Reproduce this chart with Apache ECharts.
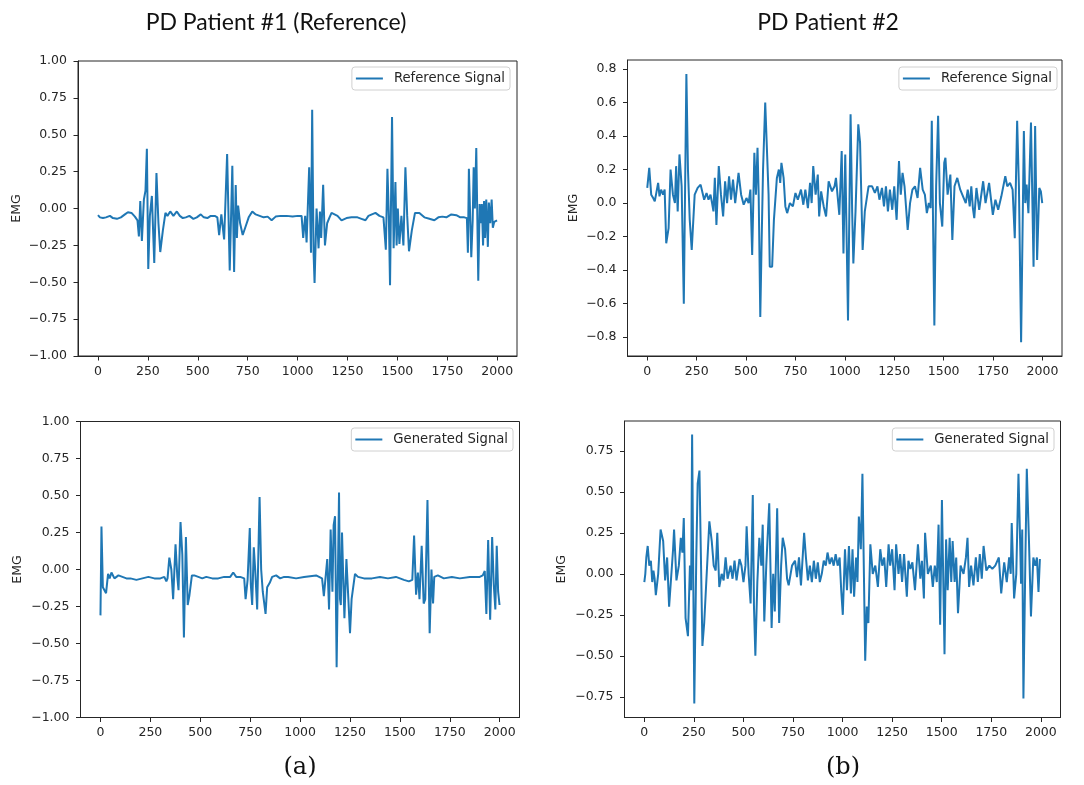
<!DOCTYPE html>
<html>
<head>
<meta charset="utf-8">
<title>EMG signals</title>
<script src="https://cdn.jsdelivr.net/npm/echarts@6/dist/echarts.min.js"></script>
<style>
  html, body { margin: 0; padding: 0; background: #fff; }
  #chart-panel { width: 1084px; height: 785px; }
</style>
</head>
<body>
<div id="chart-panel"></div>
<script>
// tick labels
var xTicks = [0, 250, 500, 750, 1000, 1250, 1500, 1750, 2000];
var yTicksP1 = [-1, -0.75, -0.5, -0.25, 0, 0.25, 0.5, 0.75, 1];
var yTicksP2Ref = [-0.8, -0.6, -0.4, -0.2, 0, 0.2, 0.4, 0.6, 0.8];
var yTicksP2Gen = [-0.75, -0.5, -0.25, 0, 0.25, 0.5, 0.75];

// PD patient #1, reference signal  [sample, EMG]
var p1Reference = [[0,-0.045],[10,-0.06],[25,-0.065],[40,-0.06],[60,-0.05],[75,-0.065],[95,-0.07],[115,-0.06],[135,-0.04],[150,-0.025],[168,-0.03],[185,-0.055],[198,-0.08],[205,-0.19],[212,0.05],[220,-0.22],[230,0.06],[238,0.12],[245,0.405],[252,-0.41],[260,-0.05],[270,0.085],[282,-0.37],[293,0.24],[303,-0.1],[312,-0.295],[325,-0.15],[338,-0.03],[348,-0.05],[362,-0.02],[378,-0.05],[395,-0.02],[410,-0.05],[425,-0.065],[440,-0.06],[458,-0.05],[478,-0.07],[495,-0.06],[515,-0.04],[530,-0.06],[548,-0.065],[565,-0.05],[585,-0.05],[598,-0.06],[607,-0.18],[618,-0.04],[632,-0.21],[647,0.37],[660,-0.42],[673,0.29],[682,-0.43],[690,0.16],[696,-0.2],[702,0.02],[712,-0.1],[725,-0.18],[740,-0.12],[755,-0.06],[773,-0.02],[790,-0.04],[810,-0.05],[830,-0.06],[850,-0.055],[870,-0.08],[890,-0.055],[915,-0.05],[945,-0.05],[975,-0.055],[1000,-0.05],[1020,-0.05],[1028,-0.2],[1038,-0.05],[1045,-0.23],[1058,0.28],[1067,-0.3],[1073,0.67],[1080,-0.3],[1085,-0.505],[1095,0.0],[1105,-0.27],[1112,-0.02],[1118,-0.2],[1128,0.16],[1137,-0.25],[1148,-0.1],[1160,-0.06],[1170,-0.03],[1185,-0.04],[1200,-0.05],[1220,-0.08],[1245,-0.065],[1270,-0.06],[1300,-0.06],[1320,-0.07],[1340,-0.08],[1355,-0.05],[1372,-0.04],[1390,-0.03],[1410,-0.05],[1430,-0.06],[1438,-0.06],[1442,-0.28],[1450,0.27],[1457,-0.05],[1463,-0.52],[1473,0.62],[1481,-0.27],[1490,0.18],[1496,-0.25],[1502,0.0],[1510,-0.24],[1520,-0.05],[1530,-0.25],[1540,0.28],[1549,-0.05],[1558,-0.29],[1572,-0.15],[1588,-0.03],[1610,-0.03],[1635,-0.06],[1660,-0.07],[1685,-0.08],[1705,-0.06],[1725,-0.055],[1745,-0.06],[1770,-0.04],[1795,-0.045],[1815,-0.06],[1835,-0.06],[1848,-0.065],[1853,-0.3],[1858,0.27],[1870,-0.33],[1877,-0.08],[1882,0.28],[1888,0.0],[1895,0.41],[1905,-0.49],[1912,0.03],[1918,-0.1],[1923,0.03],[1929,-0.25],[1934,0.05],[1939,-0.2],[1945,0.06],[1953,-0.26],[1958,0.04],[1965,-0.1],[1972,0.06],[1978,-0.13],[1985,-0.09],[1999,-0.08]];

// PD patient #1, generated signal
var p1Generated = [[0,-0.31],[5,0.29],[12,-0.12],[20,-0.13],[28,-0.16],[38,-0.03],[46,-0.06],[55,-0.02],[70,-0.06],[90,-0.04],[110,-0.05],[130,-0.06],[150,-0.06],[180,-0.07],[210,-0.06],[240,-0.05],[270,-0.06],[300,-0.06],[320,-0.05],[330,-0.08],[336,-0.06],[345,0.08],[355,0.0],[364,-0.2],[376,0.17],[385,-0.05],[391,-0.14],[401,0.32],[410,0.1],[418,-0.46],[428,0.22],[437,-0.24],[445,-0.18],[458,-0.04],[470,-0.04],[490,-0.05],[510,-0.06],[530,-0.05],[560,-0.06],[590,-0.06],[620,-0.05],[650,-0.05],[665,-0.02],[680,-0.05],[700,-0.05],[720,-0.06],[727,-0.2],[737,-0.07],[748,0.28],[753,-0.1],[760,-0.24],[768,0.15],[775,0.0],[785,-0.27],[797,0.49],[805,0.0],[813,-0.15],[827,-0.3],[835,-0.12],[848,-0.09],[860,-0.05],[880,-0.04],[900,-0.06],[920,-0.05],[940,-0.05],[980,-0.06],[1020,-0.05],[1080,-0.04],[1110,-0.06],[1119,-0.18],[1136,0.07],[1145,-0.27],[1153,0.27],[1162,-0.15],[1168,0.3],[1175,0.36],[1183,-0.66],[1195,0.52],[1200,-0.2],[1204,-0.24],[1210,0.25],[1216,-0.05],[1222,-0.33],[1232,0.07],[1250,-0.43],[1258,-0.2],[1275,-0.03],[1290,-0.05],[1320,-0.06],[1360,-0.06],[1400,-0.05],[1440,-0.06],[1480,-0.05],[1520,-0.07],[1545,-0.08],[1562,-0.07],[1571,0.23],[1581,-0.17],[1590,-0.02],[1598,-0.2],[1609,0.16],[1619,-0.23],[1627,-0.2],[1638,0.47],[1649,-0.43],[1658,0.0],[1666,-0.23],[1672,-0.05],[1690,-0.04],[1720,-0.06],[1760,-0.05],[1800,-0.06],[1850,-0.05],[1900,-0.05],[1915,-0.04],[1925,-0.01],[1933,-0.3],[1942,0.2],[1952,-0.34],[1962,0.22],[1970,-0.1],[1978,-0.27],[1985,0.16],[1992,-0.15],[1999,-0.24]];

// PD patient #2, reference signal
var p2Reference = [[0,0.09],[10,0.21],[20,0.05],[30,0.03],[38,0.01],[48,0.02],[55,0.12],[62,0.04],[70,0.08],[80,0.05],[88,0.08],[96,-0.24],[108,-0.15],[118,0.2],[130,0.05],[140,0.0],[146,0.22],[154,-0.05],[163,0.29],[174,0.1],[185,-0.6],[198,0.77],[206,0.2],[215,-0.1],[225,-0.28],[240,0.05],[255,0.09],[270,0.11],[288,0.02],[300,0.06],[310,0.02],[320,0.05],[328,0.0],[335,-0.05],[342,0.15],[350,-0.13],[362,0.22],[373,0.05],[384,-0.08],[394,0.13],[404,0.0],[414,0.16],[424,0.02],[434,0.14],[445,0.0],[462,0.18],[475,0.05],[488,-0.01],[502,0.03],[513,0.0],[522,0.08],[531,-0.31],[542,0.3],[550,0.05],[558,0.33],[564,0.04],[572,-0.68],[579,-0.22],[586,0.2],[597,0.6],[605,0.59],[614,0.05],[620,-0.38],[632,-0.38],[641,-0.1],[656,0.15],[666,0.2],[673,0.12],[679,0.24],[690,0.15],[699,-0.02],[708,-0.06],[722,0.0],[737,-0.02],[750,0.06],[762,0.02],[778,0.08],[790,-0.01],[800,0.08],[813,-0.03],[824,0.12],[832,0.0],[840,0.22],[852,0.05],[863,0.17],[870,-0.08],[880,0.07],[893,-0.02],[905,-0.08],[918,0.13],[935,0.07],[948,0.1],[955,0.15],[972,-0.07],[984,0.31],[993,-0.3],[1002,0.29],[1016,-0.7],[1029,0.53],[1037,-0.05],[1043,-0.36],[1054,-0.05],[1068,0.47],[1077,0.36],[1090,-0.28],[1101,-0.05],[1110,-0.05],[1120,0.1],[1138,0.1],[1152,0.06],[1165,0.1],[1175,0.02],[1188,0.09],[1198,-0.02],[1208,0.1],[1218,-0.05],[1228,0.08],[1240,-0.04],[1250,0.1],[1262,-0.1],[1274,0.25],[1283,0.05],[1292,0.18],[1302,0.1],[1318,-0.16],[1330,0.0],[1342,0.08],[1355,0.1],[1368,0.03],[1381,0.21],[1394,0.08],[1405,0.05],[1415,-0.06],[1425,0.0],[1434,-0.03],[1440,0.49],[1453,-0.73],[1462,0.1],[1472,0.52],[1481,0.0],[1493,-0.14],[1503,0.24],[1509,0.27],[1520,0.05],[1534,0.17],[1544,-0.22],[1555,0.1],[1569,0.15],[1584,0.08],[1598,0.04],[1612,0.0],[1622,0.08],[1632,-0.02],[1640,0.1],[1648,-0.03],[1655,-0.09],[1666,0.09],[1680,-0.04],[1700,0.13],[1712,0.0],[1730,0.12],[1749,-0.07],[1762,0.02],[1776,-0.04],[1792,0.04],[1812,0.16],[1822,0.1],[1836,0.12],[1849,0.08],[1860,-0.21],[1872,0.49],[1881,0.1],[1892,-0.83],[1906,0.43],[1913,0.0],[1920,0.11],[1929,-0.06],[1942,0.48],[1949,0.48],[1955,-0.38],[1963,0.46],[1973,-0.34],[1984,0.09],[1992,0.07],[1999,0.0]];

// PD patient #2, generated signal
var p2Generated = [[0,-0.05],[5,0.0],[10,0.1],[17,0.17],[25,0.05],[33,0.08],[40,-0.05],[46,0.02],[52,-0.03],[58,-0.13],[70,0.0],[82,0.27],[95,0.2],[105,-0.04],[115,0.1],[125,-0.2],[135,-0.21],[145,0.15],[150,0.27],[162,-0.04],[174,0.05],[184,0.22],[192,0.13],[199,0.34],[208,-0.27],[220,-0.38],[230,0.05],[236,-0.1],[241,0.85],[252,-0.79],[262,0.1],[269,0.55],[278,0.63],[293,-0.44],[302,-0.3],[312,-0.3],[328,0.32],[340,0.2],[350,0.05],[360,0.02],[368,0.25],[378,-0.08],[390,0.0],[400,-0.04],[410,0.1],[420,-0.03],[435,0.05],[445,-0.03],[455,0.08],[465,-0.04],[480,0.09],[490,0.05],[500,-0.05],[510,0.05],[516,0.29],[526,0.0],[536,-0.18],[547,0.48],[553,-0.2],[560,-0.5],[570,-0.05],[580,0.22],[590,0.05],[597,0.3],[605,-0.29],[615,0.05],[630,0.43],[642,-0.33],[650,0.0],[658,-0.23],[670,0.4],[680,-0.3],[690,0.05],[698,0.22],[710,0.15],[720,-0.03],[728,-0.07],[745,0.05],[760,0.08],[770,-0.02],[780,0.1],[790,-0.07],[806,0.25],[815,0.1],[825,-0.04],[835,0.05],[845,-0.05],[855,0.08],[865,-0.03],[875,0.07],[885,-0.05],[895,0.0],[905,0.08],[915,0.05],[924,0.13],[935,0.06],[945,0.1],[955,0.05],[965,0.12],[975,0.05],[985,0.1],[993,-0.1],[1001,-0.25],[1012,0.15],[1022,-0.1],[1032,0.17],[1042,-0.12],[1050,0.15],[1058,-0.14],[1068,0.1],[1075,-0.05],[1082,0.35],[1092,0.15],[1100,0.61],[1114,-0.53],[1122,-0.2],[1130,-0.3],[1140,0.18],[1152,0.0],[1165,0.05],[1178,-0.08],[1190,0.15],[1200,0.05],[1210,0.1],[1220,-0.08],[1232,0.18],[1240,0.05],[1250,0.15],[1262,-0.1],[1270,0.18],[1282,0.0],[1290,0.12],[1300,-0.05],[1310,0.12],[1324,-0.14],[1332,0.08],[1342,0.03],[1352,0.07],[1365,-0.1],[1380,0.18],[1392,-0.03],[1400,0.08],[1410,-0.15],[1416,0.25],[1430,0.0],[1445,0.05],[1455,-0.08],[1465,0.05],[1475,-0.05],[1484,0.3],[1492,-0.31],[1501,0.45],[1514,-0.49],[1522,0.21],[1530,-0.1],[1540,0.22],[1548,-0.05],[1555,0.2],[1565,-0.05],[1573,0.1],[1582,-0.24],[1595,0.05],[1610,0.0],[1622,0.1],[1630,0.22],[1638,-0.08],[1648,0.05],[1660,-0.07],[1672,0.1],[1682,-0.05],[1692,0.12],[1702,-0.03],[1711,0.17],[1725,0.02],[1740,0.05],[1755,0.03],[1770,0.05],[1788,0.1],[1795,-0.03],[1800,-0.12],[1815,0.07],[1828,-0.05],[1840,0.1],[1848,0.0],[1853,0.31],[1865,-0.15],[1876,0.0],[1887,0.61],[1894,0.27],[1900,-0.06],[1906,0.27],[1912,-0.76],[1922,0.1],[1929,0.64],[1940,0.2],[1950,-0.26],[1962,0.1],[1972,0.05],[1980,0.1],[1988,-0.11],[1995,0.09]];

var myChart = echarts.init(document.getElementById('chart-panel'));

var axisColor = '#262626';
var tickFont = 'DejaVu Sans';

function mpl(v, dec) {
    // matplotlib style minus sign
    return (v < 0 ? '\u2212' : '') + Math.abs(v).toFixed(dec);
}

// grids are placed so that the box covers x -100..2099 like matplotlib margins
var grids = [
    {left: 78, top: 61, width: 439, height: 295},
    {left: 627.5, top: 60, width: 434.5, height: 296},
    {left: 80.5, top: 421.5, width: 439, height: 296},
    {left: 624.5, top: 421, width: 436, height: 296.5}
];
grids.forEach(function (g) {
    g.show = true;
    g.borderColor = axisColor;
    g.borderWidth = 1;
    g.backgroundColor = 'transparent';
});

function xAxisOf(idx) {
    return {
        type: 'value', gridIndex: idx, min: -100, max: 2099,
        splitLine: {show: false},
        axisLine: {show: true, onZero: false, lineStyle: {color: axisColor, width: 1}},
        axisTick: {show: true, length: 4.5, customValues: xTicks, lineStyle: {color: axisColor}},
        axisLabel: {
            customValues: xTicks, margin: 9, color: axisColor,
            fontFamily: tickFont, fontSize: 12.5,
            formatter: function (v) { return mpl(v, 0); }
        }
    };
}

function yAxisOf(idx, min, max, ticks, dec, gap) {
    return {
        type: 'value', gridIndex: idx, min: min, max: max,
        name: 'EMG', nameLocation: 'middle', nameRotate: 90, nameGap: gap,
        nameTextStyle: {color: axisColor, fontFamily: tickFont, fontSize: 12.5},
        splitLine: {show: false},
        axisLine: {show: true, onZero: false, lineStyle: {color: axisColor, width: 1}},
        axisTick: {show: true, length: 4.5, customValues: ticks, lineStyle: {color: axisColor}},
        axisLabel: {
            customValues: ticks, margin: 11, color: axisColor,
            fontFamily: tickFont, fontSize: 12.5,
            formatter: function (v) { return mpl(v, dec); }
        }
    };
}

function legendOf(name, right, top) {
    return {
        data: [name], right: right, top: top, orient: 'horizontal',
        icon: 'rect', itemWidth: 27, itemHeight: 2,
        padding: [5, 5, 5, 4],
        borderColor: '#d0d0d0', borderWidth: 1, borderRadius: 3,
        backgroundColor: '#fff',
        selectedMode: false,
        textStyle: {color: axisColor, fontFamily: tickFont, fontSize: 13.2, padding: [0, 0, 0, 6]}
    };
}

function seriesOf(name, idx, data) {
    return {
        name: name, type: 'line', xAxisIndex: idx, yAxisIndex: idx,
        data: data, showSymbol: false, symbol: 'none',
        lineStyle: {color: '#1f77b4', width: 2},
        itemStyle: {color: '#1f77b4'},
        animation: false
    };
}

var titleFont = {fontFamily: 'Lato', fontWeight: 'normal', fontSize: 23, color: '#111'};
var panelFont = {fontFamily: 'DejaVu Serif', fontWeight: 'normal', fontSize: 24, color: '#111'};

var option = {
    backgroundColor: '#fff',
    animation: false,
    title: [
        {text: 'PD Patient #1 (Reference)', left: 276, top: 11, textAlign: 'center', padding: 0, textStyle: titleFont},
        {text: 'PD Patient #2', left: 828, top: 11, textAlign: 'center', padding: 0, textStyle: titleFont},
        {text: '(a)', left: 300, top: 756, textAlign: 'center', padding: 0, textStyle: panelFont},
        {text: '(b)', left: 843, top: 756, textAlign: 'center', padding: 0, textStyle: panelFont}
    ],
    legend: [
        legendOf('Reference Signal', 574, 67),
        legendOf('Reference Signal', 27, 67),
        legendOf('Generated Signal', 571, 428),
        legendOf('Generated Signal', 30, 428)
    ],
    grid: grids,
    xAxis: [xAxisOf(0), xAxisOf(1), xAxisOf(2), xAxisOf(3)],
    yAxis: [
        yAxisOf(0, -1, 1, yTicksP1, 2, 55),
        yAxisOf(1, -0.912, 0.853, yTicksP2Ref, 1, 47),
        yAxisOf(2, -1, 1, yTicksP1, 2, 56),
        yAxisOf(3, -0.876, 0.932, yTicksP2Gen, 2, 56)
    ],
    series: [
        seriesOf('Reference Signal', 0, p1Reference),
        seriesOf('Reference Signal', 1, p2Reference),
        seriesOf('Generated Signal', 2, p1Generated),
        seriesOf('Generated Signal', 3, p2Generated)
    ]
};
myChart.setOption(option);
</script>
</body>
</html>
